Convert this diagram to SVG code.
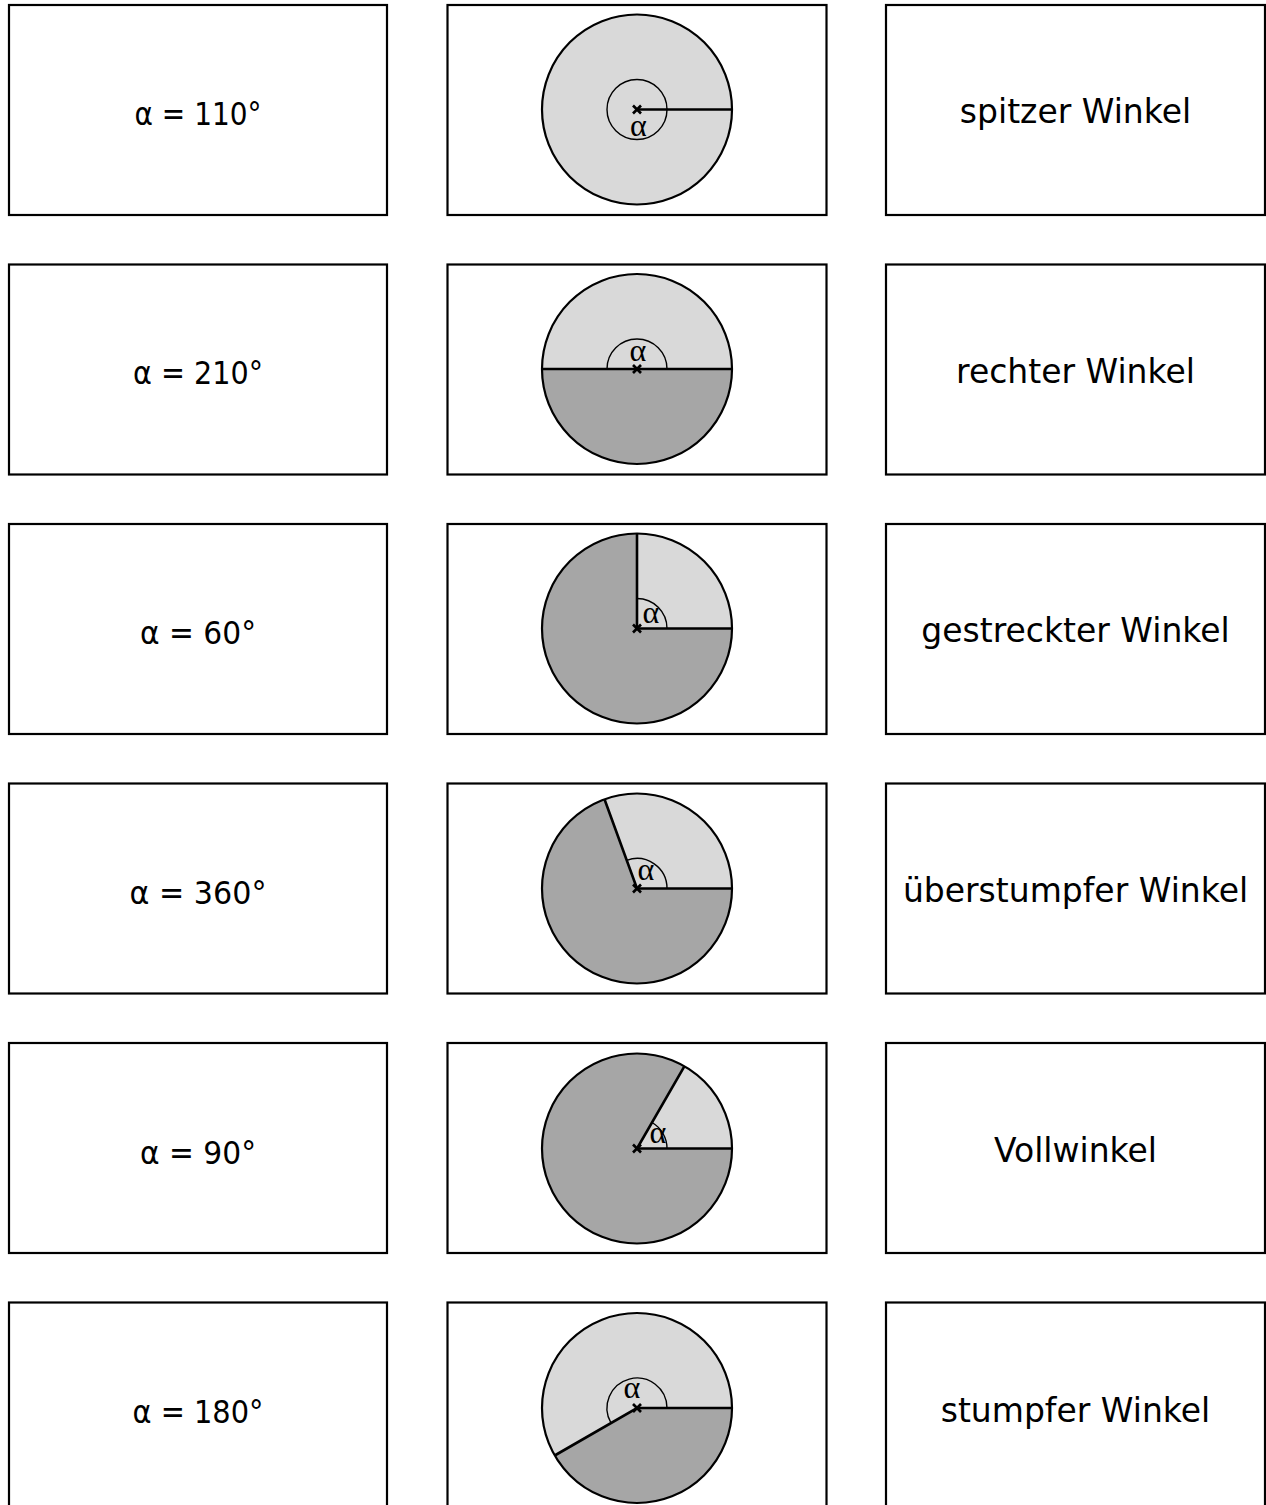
<svg xmlns="http://www.w3.org/2000/svg" width="1266" height="1505" viewBox="0 0 1266 1505">
<style>
.card{fill:#ffffff;stroke:#000000;stroke-width:2.2}
.lbl{font-family:"DejaVu Sans","Open Sans",sans-serif;font-size:33px;fill:#000;text-anchor:middle}
.lft{font-family:"DejaVu Sans","Open Sans",sans-serif;font-size:32px;fill:#000;text-anchor:middle}
.alpha{font-family:"Liberation Serif","DejaVu Serif",serif;font-size:32px;fill:#000;text-anchor:middle}
.dark{fill:#a6a6a6;stroke:none}
.light{fill:#d9d9d9;stroke:none}
.outline{fill:none;stroke:#000;stroke-width:2.2}
.ray{stroke:#000;stroke-width:2.6;fill:none}
.arc{fill:none;stroke:#000;stroke-width:1.4}
.cross{stroke:#000;stroke-width:2.6}
</style>
<defs>
<g id="x"><line class="cross" x1="-4" y1="-4" x2="4" y2="4"/><line class="cross" x1="-4" y1="4" x2="4" y2="-4"/></g>
</defs>

<!-- Row 1 -->
<g id="card-110">
<rect class="card" x="9" y="5" width="378" height="210"/>
<text class="lft" x="198" y="124.5" textLength="127" lengthAdjust="spacingAndGlyphs">α = 110°</text>
</g>
<g id="circle-1">
<rect class="card" x="447.5" y="5" width="379" height="210"/>
<circle class="light" cx="637" cy="109.5" r="95"/>
<circle class="outline" cx="637" cy="109.5" r="95"/>
<line class="ray" x1="637" y1="109.5" x2="732" y2="109.5"/>
<circle class="arc" cx="637" cy="109.5" r="30"/>
<use href="#x" x="637" y="109.5"/>
<text class="alpha" x="638.5" y="135.5">α</text>
</g>
<g id="name-spitz">
<rect class="card" x="886" y="5" width="379" height="210"/>
<text class="lbl" x="1075.5" y="123">spitzer Winkel</text>
</g>

<!-- Row 2 -->
<g id="card-210">
<rect class="card" x="9" y="264.5" width="378" height="210"/>
<text class="lft" x="198" y="384" textLength="130" lengthAdjust="spacingAndGlyphs">α = 210°</text>
</g>
<g id="circle-2">
<rect class="card" x="447.5" y="264.5" width="379" height="210"/>
<circle class="dark" cx="637" cy="369" r="95"/>
<path class="light" d="M732 369 A95 95 0 0 0 542 369 Z"/>
<circle class="outline" cx="637" cy="369" r="95"/>
<line class="ray" x1="542" y1="369" x2="732" y2="369"/>
<path class="arc" d="M667 369 A30 30 0 0 0 607 369"/>
<use href="#x" x="637" y="369"/>
<text class="alpha" x="638" y="361">α</text>
</g>
<g id="name-recht">
<rect class="card" x="886" y="264.5" width="379" height="210"/>
<text class="lbl" x="1075.5" y="382.5">rechter Winkel</text>
</g>

<!-- Row 3 -->
<g id="card-60">
<rect class="card" x="9" y="524" width="378" height="210"/>
<text class="lft" x="198" y="643.5" textLength="116" lengthAdjust="spacingAndGlyphs">α = 60°</text>
</g>
<g id="circle-3">
<rect class="card" x="447.5" y="524" width="379" height="210"/>
<circle class="dark" cx="637" cy="628.5" r="95"/>
<path class="light" d="M637 628.5 L732 628.5 A95 95 0 0 0 637 533.5 Z"/>
<circle class="outline" cx="637" cy="628.5" r="95"/>
<polyline class="ray" points="637,533.5 637,628.5 732,628.5"/>
<path class="arc" d="M667 628.5 A30 30 0 0 0 637 598.5"/>
<use href="#x" x="637" y="628.5"/>
<text class="alpha" x="651" y="622.5">α</text>
</g>
<g id="name-gestreckt">
<rect class="card" x="886" y="524" width="379" height="210"/>
<text class="lbl" x="1075.5" y="642">gestreckter Winkel</text>
</g>

<!-- Row 4 -->
<g id="card-360">
<rect class="card" x="9" y="783.5" width="378" height="210"/>
<text class="lft" x="198" y="903.5" textLength="137" lengthAdjust="spacingAndGlyphs">α = 360°</text>
</g>
<g id="circle-4">
<rect class="card" x="447.5" y="783.5" width="379" height="210"/>
<circle class="dark" cx="637" cy="888.5" r="95"/>
<path class="light" d="M637 888.5 L732 888.5 A95 95 0 0 0 604.5 799.2 Z"/>
<circle class="outline" cx="637" cy="888.5" r="95"/>
<polyline class="ray" points="604.5,799.2 637,888.5 732,888.5"/>
<path class="arc" d="M667 888.5 A30 30 0 0 0 626.7 860.3"/>
<use href="#x" x="637" y="888.5"/>
<text class="alpha" x="646" y="880">α</text>
</g>
<g id="name-ueberstumpf">
<rect class="card" x="886" y="783.5" width="379" height="210"/>
<text class="lbl" x="1075.5" y="902">überstumpfer Winkel</text>
</g>

<!-- Row 5 -->
<g id="card-90">
<rect class="card" x="9" y="1043" width="378" height="210"/>
<text class="lft" x="198" y="1163.5" textLength="116" lengthAdjust="spacingAndGlyphs">α = 90°</text>
</g>
<g id="circle-5">
<rect class="card" x="447.5" y="1043" width="379" height="210"/>
<circle class="dark" cx="637" cy="1148.5" r="95"/>
<path class="light" d="M637 1148.5 L732 1148.5 A95 95 0 0 0 684.5 1066.2 Z"/>
<circle class="outline" cx="637" cy="1148.5" r="95"/>
<polyline class="ray" points="684.5,1066.2 637,1148.5 732,1148.5"/>
<path class="arc" d="M667 1148.5 A30 30 0 0 0 652 1122.5"/>
<use href="#x" x="637" y="1148.5"/>
<text class="alpha" x="658" y="1142.5">α</text>
</g>
<g id="name-voll">
<rect class="card" x="886" y="1043" width="379" height="210"/>
<text class="lbl" x="1075.5" y="1162">Vollwinkel</text>
</g>

<!-- Row 6 -->
<g id="card-180">
<rect class="card" x="9" y="1302.5" width="378" height="210"/>
<text class="lft" x="198" y="1423" textLength="131" lengthAdjust="spacingAndGlyphs">α = 180°</text>
</g>
<g id="circle-6">
<rect class="card" x="447.5" y="1302.5" width="379" height="210"/>
<circle class="dark" cx="637" cy="1408" r="95"/>
<path class="light" d="M637 1408 L732 1408 A95 95 0 1 0 554.7 1455.5 Z"/>
<circle class="outline" cx="637" cy="1408" r="95"/>
<polyline class="ray" points="554.7,1455.5 637,1408 732,1408"/>
<path class="arc" d="M667 1408 A30 30 0 1 0 611 1423"/>
<use href="#x" x="637" y="1408"/>
<text class="alpha" x="632" y="1398">α</text>
</g>
<g id="name-stumpf">
<rect class="card" x="886" y="1302.5" width="379" height="210"/>
<text class="lbl" x="1075.5" y="1421.5">stumpfer Winkel</text>
</g>

<g id="connectors"></g>
</svg>
